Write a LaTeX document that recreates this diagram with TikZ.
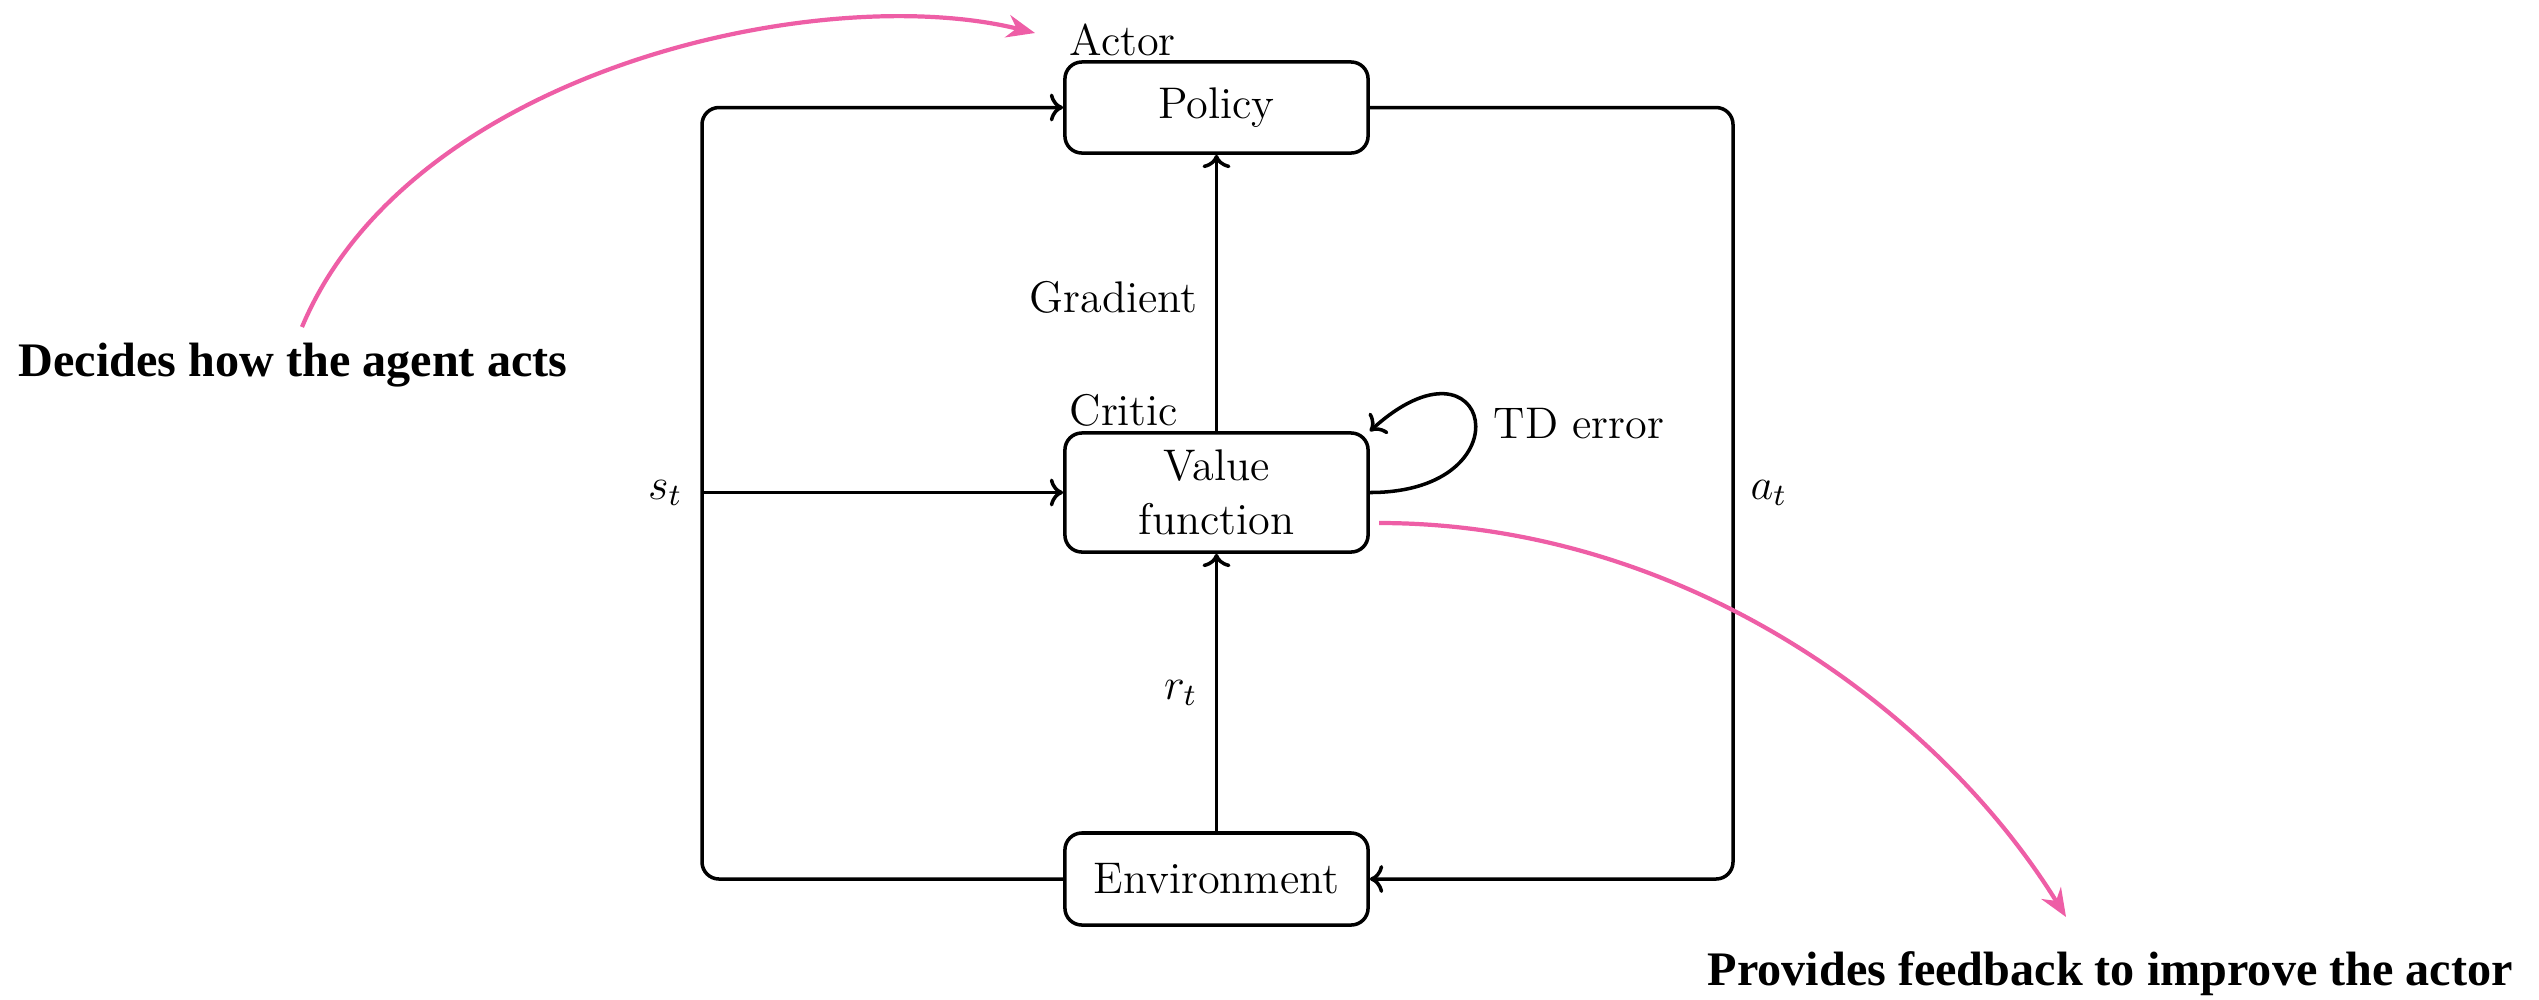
\RequirePackage{fix-cm}
\documentclass[tikz,border=0pt]{standalone}
\usepackage{fontspec}
\newfontfamily\annfont{Liberation Serif}
\usetikzlibrary{arrows.meta}
\definecolor{annpink}{RGB}{238,94,166}
\begin{document}
\begin{tikzpicture}[x=0.01cm,y=-0.01cm,
  lbl/.style={font=\fontsize{12.6}{15.2}\selectfont, inner sep=0pt},
  blk/.style={draw, line width=1pt, rounded corners=0.17cm, minimum width=3.03cm,
    inner sep=0pt, align=center, font=\fontsize{12.6}{15.2}\selectfont},
  conn/.style={line width=1pt, ->},
  ann/.style={font=\annfont\bfseries\fontsize{13.7}{16}\selectfont, inner sep=0pt},
  pinkarrow/.style={draw=annpink, line width=1.2pt, -{Stealth[length=8pt,width=6.5pt]}}
]
\path[use as bounding box] (0,0) rectangle (2539,999);

% boxes
\node[blk, minimum height=0.91cm] (pol) at (1216.5,107.5) {Policy};
\node[blk, minimum height=1.19cm] (vf) at (1216.5,492.5) {Value\\function};
\node[blk, minimum height=0.92cm] (env) at (1216.5,879) {Environment};

% labels
\node[lbl, anchor=base west] (actor) at (1069,55) {Actor};
\node[lbl, anchor=base west] (critic) at (1069,425) {Critic};
\node[lbl, anchor=base east] (grad) at (1198,312) {Gradient};
\node[lbl, anchor=east] (rt) at (1198,693) {$r_t$};
\node[lbl, anchor=east] (st) at (683,493) {$s_t$};
\node[lbl, anchor=west] (at) at (1750,493) {$a_t$};
\node[lbl, anchor=base west] (td) at (1493,438) {TD error};

% annotation texts
\node[ann, anchor=base west] (dec) at (18,376) {Decides how the agent acts};
\node[ann, anchor=base west] (prov) at (1707,985) {Provides feedback to improve the actor};

% corner coordinates
\coordinate (lb) at (702,879);
\coordinate (lt) at (702,107.5);
\coordinate (sj) at (702,492.5);
\coordinate (rtop) at (1733,107.5);
\coordinate (rbot) at (1733,879);

% connectors
\draw[conn, rounded corners=0.17cm] (env.west) -- (lb) -- (lt) -- (pol.west);
\draw[conn] (sj) -- (vf.west);
\draw[conn, rounded corners=0.17cm] (pol.east) -- (rtop) -- (rbot) -- (env.east);
\draw[conn] (env.north) -- (vf.south);
\draw[conn] (vf.north) -- (pol.south);
\draw[conn] (vf.east) .. controls (1530,492.5) and (1490,322) .. (vf.north east);

% pink annotation arrows
\coordinate (a1s) at (302,327);
\coordinate (a1e) at (1035,33);
\draw[pinkarrow] (a1s) .. controls (410,70) and (820,-20) .. (a1e);
\coordinate (a2s) at (1379,523);
\coordinate (a2e) at (2066,917);
\draw[pinkarrow] (a2s) .. controls (1680,523) and (1936,707) .. (a2e);
\end{tikzpicture}
\end{document}
